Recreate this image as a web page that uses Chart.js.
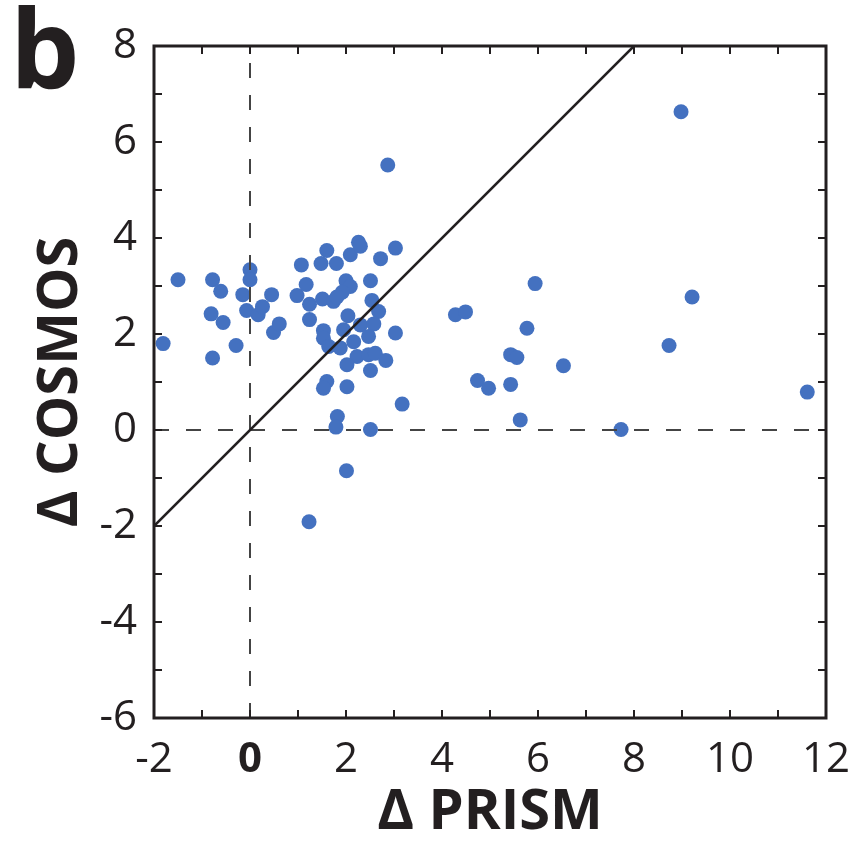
<!DOCTYPE html>
<html>
<head>
<meta charset="utf-8">
<script src="https://cdn.jsdelivr.net/npm/chart.js@4"></script>
<style>
  html, body { margin: 0; padding: 0; background: #fff; }
  #wrap { width: 854px; height: 843px; }
</style>
</head>
<body>
<div id="wrap"><canvas id="myChart" width="854" height="843"></canvas></div>
<script>
// change in PRISM vs change in COSMOS, one point per site
var prismDelta = [
  -1.81, -1.50, -0.78, -0.61, -0.81, -0.56, -0.78, -0.29, -0.15, 0.00,
  0.00, -0.07, 0.17, 0.26, 0.45, 0.49, 0.61, 0.98, 1.07, 1.17,
  1.24, 1.24, 1.48, 1.60, 1.80, 2.09, 2.26, 2.30, 2.72, 3.03,
  1.51, 1.74, 2.00, 2.09, 1.92, 1.81, 2.51, 2.54, 2.68, 2.04,
  1.95, 1.53, 1.53, 1.64, 1.88, 2.16, 2.30, 2.58, 2.47, 3.03,
  2.23, 2.47, 2.61, 2.83, 2.02, 2.51, 1.60, 1.53, 2.02, 3.17,
  1.82, 1.79, 2.51, 2.87, 2.01, 1.23, 4.28, 4.49, 5.94, 5.77,
  5.43, 5.56, 4.74, 4.97, 5.43, 5.63, 6.53, 7.73, 8.73, 9.21,
  11.61, 8.98
];
var cosmosDelta = [
  1.80, 3.13, 3.13, 2.89, 2.42, 2.24, 1.50, 1.76, 2.82, 3.34,
  3.13, 2.49, 2.40, 2.57, 2.82, 2.03, 2.21, 2.80, 3.44, 3.03,
  2.62, 2.30, 3.47, 3.74, 3.47, 3.65, 3.91, 3.83, 3.57, 3.79,
  2.73, 2.68, 3.11, 2.99, 2.87, 2.77, 3.11, 2.70, 2.47, 2.38,
  2.09, 2.07, 1.91, 1.74, 1.71, 1.84, 2.19, 2.21, 1.95, 2.02,
  1.53, 1.57, 1.60, 1.45, 1.36, 1.24, 1.01, 0.87, 0.90, 0.54,
  0.28, 0.06, 0.01, 5.52, -0.85, -1.91, 2.40, 2.46, 3.05, 2.12,
  1.57, 1.51, 1.03, 0.87, 0.95, 0.21, 1.34, 0.01, 1.76, 2.77,
  0.79, 6.63
];

var xTicks = [-2, 0, 2, 4, 6, 8, 10, 12];
var yTicks = [-6, -4, -2, 0, 2, 4, 6, 8];

// 1:1 line and the zero reference lines
var oneToOne = [[-2, -2], [8, 8]];
var zeroX = [[0, -6], [0, 8]];
var zeroY = [[-2, 0], [12, 0]];

var ink = '#231f20';
var dotBlue = '#4471c0';
var fontFamily = '"Open Sans", "DejaVu Sans", sans-serif';

function toPoints(pairs) {
  return pairs.map(function (p) { return { x: p[0], y: p[1] }; });
}

var points = prismDelta.map(function (x, i) { return { x: x, y: cosmosDelta[i] }; });

// box around the plot with small inward ticks every unit, plus the panel letter
var frameTicks = {
  id: 'frameTicks',
  afterDatasetsDraw: function (chart) {
    var ctx = chart.ctx;
    var a = chart.chartArea;
    var xs = chart.scales.x, ys = chart.scales.y;
    var len = 8;
    ctx.save();
    ctx.strokeStyle = ink;
    ctx.lineWidth = 2;
    ctx.beginPath();
    for (var v = xs.min + 1; v < xs.max; v++) {
      var px = xs.getPixelForValue(v);
      ctx.moveTo(px, a.bottom); ctx.lineTo(px, a.bottom - len);
      ctx.moveTo(px, a.top); ctx.lineTo(px, a.top + len);
    }
    for (var w = ys.min + 1; w < ys.max; w++) {
      var py = ys.getPixelForValue(w);
      ctx.moveTo(a.left, py); ctx.lineTo(a.left + len, py);
      ctx.moveTo(a.right, py); ctx.lineTo(a.right - len, py);
    }
    ctx.stroke();
    ctx.lineWidth = 3;
    ctx.strokeRect(a.left, a.top, a.right - a.left, a.bottom - a.top);
    ctx.restore();
  },
  afterDraw: function (chart) {
    var ctx = chart.ctx;
    ctx.save();
    ctx.fillStyle = ink;
    ctx.font = 'bold 110px ' + fontFamily;
    ctx.textBaseline = 'alphabetic';
    ctx.fillText('b', 10, 88);
    ctx.restore();
  }
};

var ctx = document.getElementById('myChart').getContext('2d');
var myChart = new Chart(ctx, {
  type: 'scatter',
  data: {
    datasets: [
      {
        type: 'line',
        data: toPoints(oneToOne),
        borderColor: ink,
        borderWidth: 2.5,
        pointRadius: 0,
        order: 0
      },
      {
        type: 'line',
        data: toPoints(zeroX),
        borderColor: '#444',
        borderWidth: 2,
        borderDash: [15, 17],
        pointRadius: 0,
        order: 0
      },
      {
        type: 'line',
        data: toPoints(zeroY),
        borderColor: '#444',
        borderWidth: 2,
        borderDash: [15, 17],
        pointRadius: 0,
        order: 0
      },
      {
        data: points,
        backgroundColor: dotBlue,
        borderWidth: 0,
        pointRadius: 7.5,
        order: 1
      }
    ]
  },
  options: {
    responsive: false,
    animation: false,
    layout: { padding: { left: 0, top: 46, right: 28, bottom: 0 } },
    plugins: { legend: { display: false }, tooltip: { enabled: false } },
    scales: {
      x: {
        type: 'linear',
        min: -2,
        max: 12,
        afterBuildTicks: function (axis) {
          axis.ticks = xTicks.map(function (v) { return { value: v }; });
        },
        afterFit: function (axis) {
          axis.height = 125;
          axis.paddingLeft = 0;
          axis.paddingRight = 0;
        },
        grid: { display: false, drawTicks: false },
        border: { display: false },
        ticks: {
          color: ink,
          padding: 21,
          font: function (c) {
            return { family: fontFamily, size: 42, lineHeight: 1, weight: c.tick && c.tick.value === 0 ? 'bold' : 'normal' };
          }
        },
        title: {
          display: true,
          text: 'Δ PRISM',
          color: ink,
          font: { family: fontFamily, size: 56, weight: 'bold', lineHeight: 1 },
          padding: { top: 0, bottom: 2 }
        }
      },
      y: {
        type: 'linear',
        min: -6,
        max: 8,
        afterBuildTicks: function (axis) {
          axis.ticks = yTicks.map(function (v) { return { value: v }; });
        },
        afterFit: function (axis) {
          axis.width = 154;
          axis.paddingTop = 0;
          axis.paddingBottom = 0;
        },
        grid: { display: false, drawTicks: false },
        border: { display: false },
        ticks: {
          color: ink,
          padding: 17,
          font: { family: fontFamily, size: 42 }
        },
        title: {
          display: true,
          text: 'Δ COSMOS',
          color: ink,
          font: { family: fontFamily, size: 56, weight: 'bold', lineHeight: 1 },
          padding: { top: 33, bottom: 0 }
        }
      }
    }
  },
  plugins: [frameTicks]
});
</script>
</body>
</html>
